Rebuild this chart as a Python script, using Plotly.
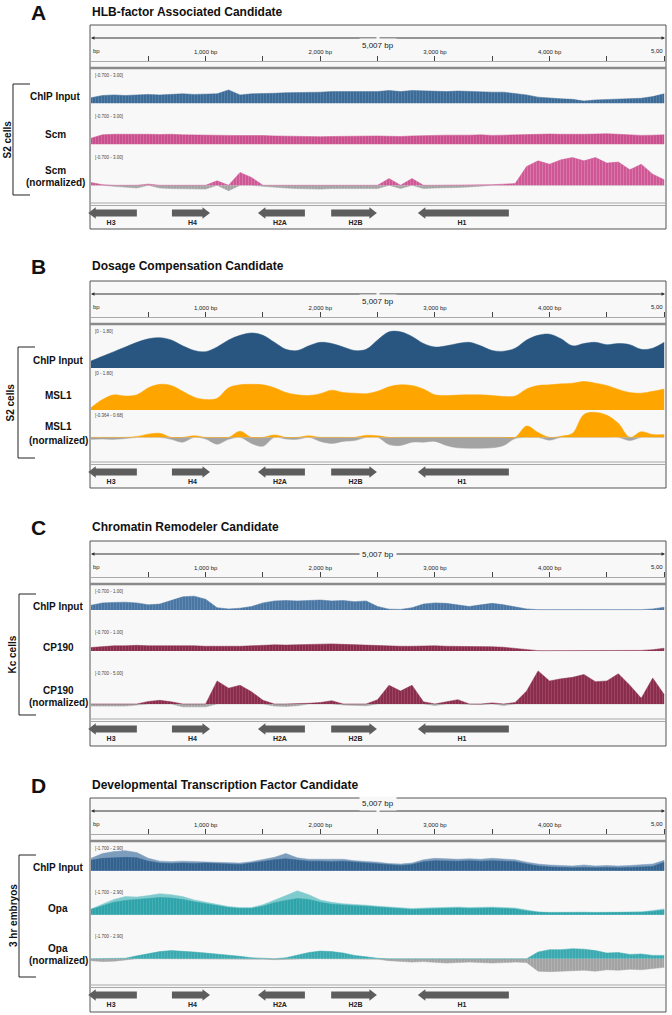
import plotly.graph_objects as go

W, H = 672, 1015
XL, XR = 91, 665            # pixel span of the 0..5,007 bp window
FRAME_L, FRAME_R = 90, 666
SPAN = 5007
FONT = "Liberation Sans, Arial, sans-serif"

# --- data: signal sampled every 100 bp across the histone locus ---
bins = list(range(0, 5001, 100))

# A: HLB-factor (S2 cells)
a_input = [0.5, 0.7, 0.75, 0.7, 0.75, 0.8, 0.75, 0.8, 0.85, 0.8,
           0.8, 0.85, 1.2, 0.75, 0.85, 0.85, 0.9, 0.95, 0.95, 1.0,
           1.0, 1.05, 1.05, 1.1, 1.1, 1.05, 1.15, 1.05, 1.15, 1.1,
           1.1, 1.05, 1.1, 1.05, 1.05, 1.0, 1.0, 0.9, 0.75, 0.55,
           0.45, 0.4, 0.35, 0.2, 0.3, 0.35, 0.35, 0.4, 0.45, 0.6,
           0.85]
a_scm = [0.55, 0.85, 0.9, 0.92, 0.9, 0.9, 0.88, 0.9, 0.85, 0.85,
         0.82, 0.8, 0.8, 0.78, 0.8, 0.78, 0.75, 0.72, 0.7, 0.68,
         0.68, 0.7, 0.72, 0.7, 0.72, 0.75, 0.72, 0.7, 0.75, 0.8,
         0.8, 0.82, 0.8, 0.82, 0.85, 0.8, 0.82, 0.85, 0.88, 0.9,
         0.92, 0.9, 0.88, 0.9, 0.92, 0.95, 0.9, 0.85, 0.8, 0.82,
         0.85]
a_scm_norm = [0.25, 0.05, -0.1, -0.2, -0.25, 0.1, -0.25, -0.3, -0.3, -0.35,
              -0.35, 0.4, -0.5, 1.15, 0.7, -0.1, -0.2, -0.25, -0.3, -0.35,
              -0.35, -0.3, -0.3, -0.25, -0.25, -0.3, 0.6, -0.3, 0.6, -0.3,
              -0.25, -0.25, -0.2, -0.15, -0.05, 0.05, 0.1, 0.15, 1.7, 2.2,
              1.9, 2.3, 2.5, 2.2, 2.5, 2.0, 2.1, 1.4, 1.9, 1.0,
              0.5]

# B: dosage compensation (S2 cells)
b_input = [0.3, 0.5, 0.7, 0.9, 1.1, 1.25, 1.3, 1.2, 0.95, 0.75,
           0.7, 0.9, 1.2, 1.4, 1.5, 1.4, 1.1, 0.8, 0.75, 0.95,
           1.1, 1.05, 0.9, 0.75, 0.8, 1.2, 1.55, 1.55, 1.35, 1.05,
           0.9, 0.95, 1.05, 1.1, 0.95, 0.75, 0.72, 0.85, 1.2, 1.4,
           1.45, 1.25, 0.95, 1.05, 1.1, 1.0, 1.05, 1.0, 0.8, 0.85,
           1.1]
b_msl1 = [0.1, 0.45, 0.65, 0.6, 0.65, 0.95, 1.1, 1.05, 0.8, 0.55,
          0.45, 0.5, 0.95, 1.08, 1.1, 1.08, 0.95, 0.75, 0.65, 0.62,
          0.7, 0.85, 0.75, 0.72, 0.7, 0.8, 1.0, 1.08, 1.05, 0.9,
          0.65, 0.62, 0.64, 0.65, 0.65, 0.62, 0.58, 0.6, 0.9, 1.05,
          1.08, 1.12, 1.15, 1.22, 1.15, 1.05, 0.88, 0.75, 0.72, 0.8,
          0.9]
b_msl1_norm = [-0.05, -0.04, -0.05, -0.03, 0.02, 0.08, 0.1, -0.05, -0.12, 0.04,
               -0.04, -0.17, -0.05, 0.15, -0.15, -0.22, 0.06, -0.04, -0.05, 0.04,
               -0.1, -0.15, -0.1, -0.08, 0.05, 0.04, -0.18, -0.2, -0.12, -0.12,
               -0.1, -0.2, -0.26, -0.27, -0.27, -0.26, -0.2, -0.03, 0.28, 0.12,
               -0.07, 0.03, 0.1, 0.57, 0.62, 0.55, 0.35, -0.08, 0.14, 0.07,
               0.07]

# C: chromatin remodeler (Kc cells)
c_input = [0.2, 0.3, 0.32, 0.33, 0.3, 0.22, 0.25, 0.4, 0.55, 0.58,
           0.45, 0.1, 0.05, 0.08, 0.15, 0.3, 0.38, 0.4, 0.38, 0.4,
           0.42, 0.38, 0.4, 0.35, 0.38, 0.15, 0.04, 0.03, 0.1, 0.25,
           0.3, 0.28, 0.2, 0.15, 0.22, 0.28, 0.22, 0.15, 0.05, 0.02,
           0.02, 0.01, 0.02, 0.02, 0.01, 0.02, 0.02, 0.03, 0.02, 0.05,
           0.12]
c_cp190 = [0.15, 0.2, 0.22, 0.22, 0.24, 0.22, 0.22, 0.24, 0.22, 0.22,
           0.2, 0.2, 0.18, 0.2, 0.22, 0.25, 0.26, 0.25, 0.26, 0.28,
           0.3, 0.3, 0.28, 0.26, 0.25, 0.24, 0.22, 0.2, 0.2, 0.22,
           0.22, 0.2, 0.2, 0.2, 0.18, 0.18, 0.16, 0.12, 0.05, 0.02,
           0.02, 0.02, 0.02, 0.02, 0.02, 0.02, 0.02, 0.02, 0.03, 0.06,
           0.12]
c_cp190_norm = [-0.3, -0.35, -0.3, -0.3, -0.1, 0.35, 0.5, 0.3, -0.4, -0.45,
                -0.4, 3.2, 2.2, 2.6, 1.7, 0.5, -0.3, -0.35, -0.25, 0.1,
                0.2, 0.45, -0.15, -0.2, -0.25, 0.6, 2.6, 1.8, 2.6, 0.3,
                -0.2, 0.3, 0.6, -0.1, -0.1, 0.15, -0.2, 0.2, 1.8, 4.6,
                3.2, 3.5, 3.7, 4.1, 3.1, 3.2, 4.2, 2.6, 0.8, 3.6,
                1.3]

# D: developmental TF (3 hr embryos); *_max is the lighter window maximum
d_input = [1.1, 1.3, 1.35, 1.4, 1.35, 1.0, 0.8, 0.75, 0.8, 0.75,
           0.8, 0.75, 0.7, 0.65, 0.8, 1.0, 1.15, 1.25, 1.1, 1.0,
           1.0, 0.95, 1.0, 0.9, 0.85, 0.75, 0.6, 0.55, 0.65, 0.95,
           1.05, 1.0, 1.0, 1.05, 1.0, 1.05, 1.0, 0.95, 0.7, 0.5,
           0.4, 0.35, 0.3, 0.35, 0.3, 0.35, 0.3, 0.35, 0.4, 0.45,
           0.9]
d_input_max = [1.3, 1.8, 2.0, 2.1, 1.9, 1.3, 1.0, 0.95, 1.0, 0.95,
               0.95, 0.9, 0.85, 0.8, 0.95, 1.2, 1.4, 1.8, 1.35, 1.2,
               1.2, 1.15, 1.2, 1.05, 1.0, 0.9, 0.75, 0.7, 0.8, 1.15,
               1.3, 1.25, 1.2, 1.25, 1.2, 1.3, 1.2, 1.15, 0.9, 0.7,
               0.6, 0.55, 0.5, 0.6, 0.5, 0.55, 0.5, 0.55, 0.6, 0.7,
               1.1]
d_opa = [0.55, 0.9, 1.3, 1.5, 1.6, 1.75, 1.8, 1.75, 1.6, 1.35,
         1.15, 0.95, 0.75, 0.65, 0.65, 0.9, 1.25, 1.5, 1.7, 1.6,
         1.3, 1.1, 1.0, 0.95, 0.9, 0.8, 0.7, 0.6, 0.55, 0.6,
         0.65, 0.7, 0.7, 0.65, 0.7, 0.7, 0.65, 0.6, 0.4, 0.25,
         0.2, 0.22, 0.2, 0.22, 0.2, 0.22, 0.2, 0.22, 0.25, 0.35,
         0.5]
d_opa_max = [0.6, 1.1, 1.6, 1.9, 1.85, 2.0, 2.2, 2.1, 1.9, 1.55,
             1.3, 1.05, 0.85, 0.75, 0.75, 1.05, 1.5, 2.0, 2.5, 2.1,
             1.55, 1.3, 1.15, 1.1, 1.0, 0.9, 0.8, 0.7, 0.65, 0.7,
             0.75, 0.8, 0.8, 0.75, 0.8, 0.8, 0.75, 0.7, 0.5, 0.3,
             0.25, 0.28, 0.25, 0.28, 0.25, 0.28, 0.25, 0.3, 0.3, 0.45,
             0.6]
d_opa_norm_hi = [0, 0, 0, 0.05, 0.3, 0.55, 0.75, 0.85, 0.8, 0.7,
                 0.6, 0.5, 0.35, 0.25, 0.1, 0.05, 0, 0.1, 0.4, 0.65,
                 0.8, 0.75, 0.6, 0.35, 0.2, 0.05, 0, 0, 0, 0,
                 0, 0, 0, 0, 0, 0, 0, 0, 0, 0.7,
                 0.95, 0.95, 1.05, 1.0, 0.85, 0.6, 0.65, 0.45, 0.5, 0.35,
                 0.35]
d_opa_norm_lo = [-0.2, -0.3, -0.25, -0.1, 0, 0, 0, 0, 0, 0,
                 0, 0, 0, 0, 0, -0.05, -0.1, -0.05, 0, 0,
                 0, 0, 0, 0, 0, -0.05, -0.2, -0.3, -0.35, -0.3,
                 -0.35, -0.45, -0.4, -0.35, -0.4, -0.45, -0.4, -0.35, -0.4, -1.3,
                 -1.35, -1.3, -1.25, -1.2, -1.3, -1.15, -1.2, -1.1, -1.15, -1.0,
                 -0.9]

# histone genes (bp); strand -1 points left
genes = ["H3", "H4", "H2A", "H2B", "H1"]
gene_left = [-50, 706, 1430, 2095, 2825]
gene_right = [400, 1064, 1866, 2520, 3645]
gene_strand = [-1, 1, -1, 1, -1]

ruler_ticks = [500, 1000, 1500, 2000, 2500, 3000, 3500, 4000, 4500, 5000]
ruler_text = ["", "1,000 bp", "", "2,000 bp", "", "3,000 bp", "", "4,000 bp", "", ""]

GRAY = "#a3a3a3"
GENE = "#5d5d5d"

# track: (label, range text, y range, values, second series, colour, light colour / kind, stripe colour)
panels = [
    dict(letter="A", title="HLB-factor Associated Candidate", ly=12, top=25, th=41, foot=26,
         group="S2 cells", gx=7, bx=13, bracket=(84, 195), lx=55, labels=[96, 135, 170, 183],
         tracks=[("ChIP Input", "[-0.700 - 3.00]", (-0.7, 3.0), a_input, None, "#3d6b97", None, "#7296bb"),
                 ("Scm", "[-0.700 - 3.00]", (-0.7, 3.0), a_scm, None, "#c9508d", None, "#e08ab5"),
                 ("Scm", "[-0.700 - 3.00]", (-0.7, 3.0), a_scm_norm, a_scm_norm, "#cf5795", "norm", "#e59bc0")]),
    dict(letter="B", title="Dosage Compensation Candidate", ly=266, top=281, th=42, foot=26,
         group="S2 cells", gx=10, bx=18, bracket=(347, 458), lx=58, labels=[360, 395, 427, 440],
         tracks=[("ChIP Input", "[0 - 1.80]", (0, 1.8), b_input, None, "#285681", None, None),
                 ("MSL1", "[0 - 1.80]", (0, 1.8), b_msl1, None, "#ffa500", None, None),
                 ("MSL1", "[-0.364 - 0.68]", (-0.364, 0.68), b_msl1_norm, b_msl1_norm, "#ffa500", "norm", None)]),
    dict(letter="C", title="Chromatin Remodeler Candidate", ly=527, top=541, th=41, foot=27,
         group="Kc cells", gx=12, bx=19, bracket=(594, 715), lx=58, labels=[606, 647, 690, 702],
         tracks=[("ChIP Input", "[-0.700 - 1.00]", (-0.7, 1.0), c_input, None, "#4a76a3", None, "#7c9ec2"),
                 ("CP190", "[-0.700 - 1.00]", (-0.7, 1.0), c_cp190, None, "#8a2c4c", None, "#b1637f"),
                 ("CP190", "[-0.700 - 5.00]", (-0.7, 5.0), c_cp190_norm, c_cp190_norm, "#8a2c4c", "norm", "#b1637f")]),
    dict(letter="D", title="Developmental Transcription Factor Candidate", ly=785, top=798, th=44, foot=27,
         group="3 hr embryos", gx=13, bx=19, bracket=(855, 977), lx=58, labels=[867, 908, 948, 960],
         tracks=[("ChIP Input", "[-1.700 - 2.90]", (-1.7, 2.9), d_input, d_input_max, "#33628f", "#7d9dbd", "#5b80a6"),
                 ("Opa", "[-1.700 - 2.90]", (-1.7, 2.9), d_opa, d_opa_max, "#2ea3a9", "#80cbce", "#62bcc0"),
                 ("Opa", "[-1.700 - 2.90]", (-1.7, 2.9), d_opa_norm_hi, d_opa_norm_lo, "#3aaab0", "norm", "#6cc2c6")]),
]

fig = go.Figure()
n_axes = [0]


def px_y(p):
    return 1 - p / H


def new_axes(top, bottom, yrange):
    n_axes[0] += 1
    s = "" if n_axes[0] == 1 else str(n_axes[0])
    fig.update_layout({
        "xaxis" + s: dict(domain=[XL / W, XR / W], range=[0, SPAN], anchor="y" + s,
                          visible=False, fixedrange=True),
        "yaxis" + s: dict(domain=[px_y(bottom), px_y(top)], range=list(yrange), anchor="x" + s,
                          visible=False, fixedrange=True),
    })
    return s


def area(s, vals, color, shape="linear", stripe=None):
    kw = {}
    if stripe:
        kw["fillpattern"] = dict(shape="|", size=3, solidity=0.3, fgcolor=stripe, bgcolor=color)
    fig.add_trace(go.Scatter(x=bins, y=vals, xaxis="x" + s, yaxis="y" + s, mode="lines",
                             line=dict(width=0.5, color=color, shape=shape),
                             fill="tozeroy", fillcolor=color, hoverinfo="skip", **kw))


def note(text, x, y, size, **kw):
    color = kw.pop("color", "#111")
    kw.setdefault("xanchor", "center")
    kw.setdefault("yanchor", "middle")
    fig.add_annotation(text=text, x=x / W, y=px_y(y), xref="paper", yref="paper",
                       showarrow=False, font=dict(family=FONT, size=size, color=color), **kw)


def hline(y, color, width, x0=FRAME_L, x1=FRAME_R):
    fig.add_shape(type="line", xref="paper", yref="paper", x0=x0 / W, x1=x1 / W,
                  y0=px_y(y), y1=px_y(y), line=dict(color=color, width=width))


for p in panels:
    F, th = p["top"], p["th"]
    t0 = F + 45
    G = t0 + 3 * th + 10
    bottom = G + p["foot"]
    smooth = "spline" if p["letter"] == "B" else "linear"

    fig.add_shape(type="rect", xref="paper", yref="paper", x0=FRAME_L / W, x1=FRAME_R / W,
                  y0=px_y(bottom), y1=px_y(F), fillcolor="#f8f8f8",
                  line=dict(color="#555555", width=1), layer="below")
    note("<b>%s</b>" % p["letter"], 38, p["ly"], 21)
    note("<b>%s</b>" % p["title"], 90, p["ly"], 12, xanchor="left")

    # ruler
    s = new_axes(F + 37, F + 43, (0, 1))
    fig.update_layout({"xaxis" + s: dict(visible=True, side="top", showline=True, linecolor="#aaaaaa",
                                         linewidth=1, showgrid=False, zeroline=False,
                                         ticks="outside", ticklen=5, tickwidth=1, tickcolor="#444444",
                                         tickmode="array", tickvals=ruler_ticks, ticktext=ruler_text,
                                         tickfont=dict(family=FONT, size=6, color="#222"))})
    hline(F + 43, "#8a8a8a", 2.5)
    half = (XR - XL) / 2
    for x_end, ax in ((0, half), (SPAN, -half)):
        fig.add_annotation(x=x_end, y=px_y(F + 13), xref="x" + s, yref="paper", text="",
                           showarrow=True, ax=ax, ay=0, arrowhead=2, arrowsize=0.7,
                           arrowwidth=1, arrowcolor="#333333", standoff=0)
    fig.add_annotation(x=SPAN / 2, y=px_y(F + 13), xref="x" + s, yref="paper", text="5,007 bp",
                       showarrow=False, bgcolor="#f8f8f8", borderpad=2,
                       font=dict(family=FONT, size=8, color="#222"))
    note("bp", XL, F + 26, 6, xanchor="left", color="#222")
    note("5,00", XR, F + 26, 6, xanchor="right", color="#222")

    # signal tracks
    for k, (name, rtext, yr, vals, extra, color, kind, stripe) in enumerate(p["tracks"]):
        top = t0 + k * th
        s = new_axes(top, top + th, yr)
        note(rtext, 93, top + 1, 4.5, xanchor="left", yanchor="top", color="#444")
        if kind == "norm":
            area(s, [min(v, 0) for v in extra], GRAY, smooth, "#c4c4c4" if stripe else None)
            area(s, [max(v, 0) for v in vals], color, smooth, stripe)
        else:
            if extra is not None:
                area(s, extra, kind, smooth)
            area(s, vals, color, smooth, stripe)

    # track labels and bracket
    names = [t[0] for t in p["tracks"]]
    lx, ys = p["lx"], p["labels"]
    note("<b>%s</b>" % names[0], lx, ys[0], 10)
    note("<b>%s</b>" % names[1], lx, ys[1], 10)
    note("<b>%s</b>" % names[2], lx, ys[2], 10)
    note("<b>(normalized)</b>", lx, ys[3], 10)
    b0, b1 = p["bracket"]
    fig.add_shape(type="path", xref="paper", yref="paper",
                  path="M %f %f L %f %f L %f %f L %f %f" % (
                      (p["bx"] + 17) / W, px_y(b0), p["bx"] / W, px_y(b0),
                      p["bx"] / W, px_y(b1), (p["bx"] + 17) / W, px_y(b1)),
                  line=dict(color="#222", width=1))
    note("<b>%s</b>" % p["group"], p["gx"], (b0 + b1) / 2, 10, textangle=-90)

    # gene track
    hline(G, "#a8a8a8", 1)
    hline(G + 2.5, "#a8a8a8", 1)
    s = new_axes(G + 4, G + 26, (0, 22))
    head = 8 * SPAN / (XR - XL)
    for gl, gr, st in zip(gene_left, gene_right, gene_strand):
        if st > 0:
            body, tip, sym = [gl, gr - head], gr - head, "triangle-right"
        else:
            body, tip, sym = [gl + head, gr], gl + head, "triangle-left"
        fig.add_trace(go.Scatter(x=body, y=[16, 16], xaxis="x" + s, yaxis="y" + s, mode="lines",
                                 line=dict(color=GENE, width=7), hoverinfo="skip"))
        fig.add_trace(go.Scatter(x=[tip], y=[16], xaxis="x" + s, yaxis="y" + s, mode="markers",
                                 marker=dict(symbol=sym, size=10, color=GENE, line=dict(width=0)),
                                 cliponaxis=False, hoverinfo="skip"))
    fig.add_trace(go.Scatter(x=[(a + b) / 2 for a, b in zip(gene_left, gene_right)], y=[6] * len(genes),
                             xaxis="x" + s, yaxis="y" + s, mode="text",
                             text=["<b>%s</b>" % g for g in genes],
                             textfont=dict(family=FONT, size=7, color="#222"), hoverinfo="skip"))

fig.update_layout(width=W, height=H, margin=dict(l=0, r=0, t=0, b=0), showlegend=False,
                  paper_bgcolor="white", plot_bgcolor="rgba(0,0,0,0)")

# drop the browser's default page margin so the figure sits at the top-left corner
fig.write_html("out.html", config={"displayModeBar": False},
               post_script="document.body.style.margin='0px';")
